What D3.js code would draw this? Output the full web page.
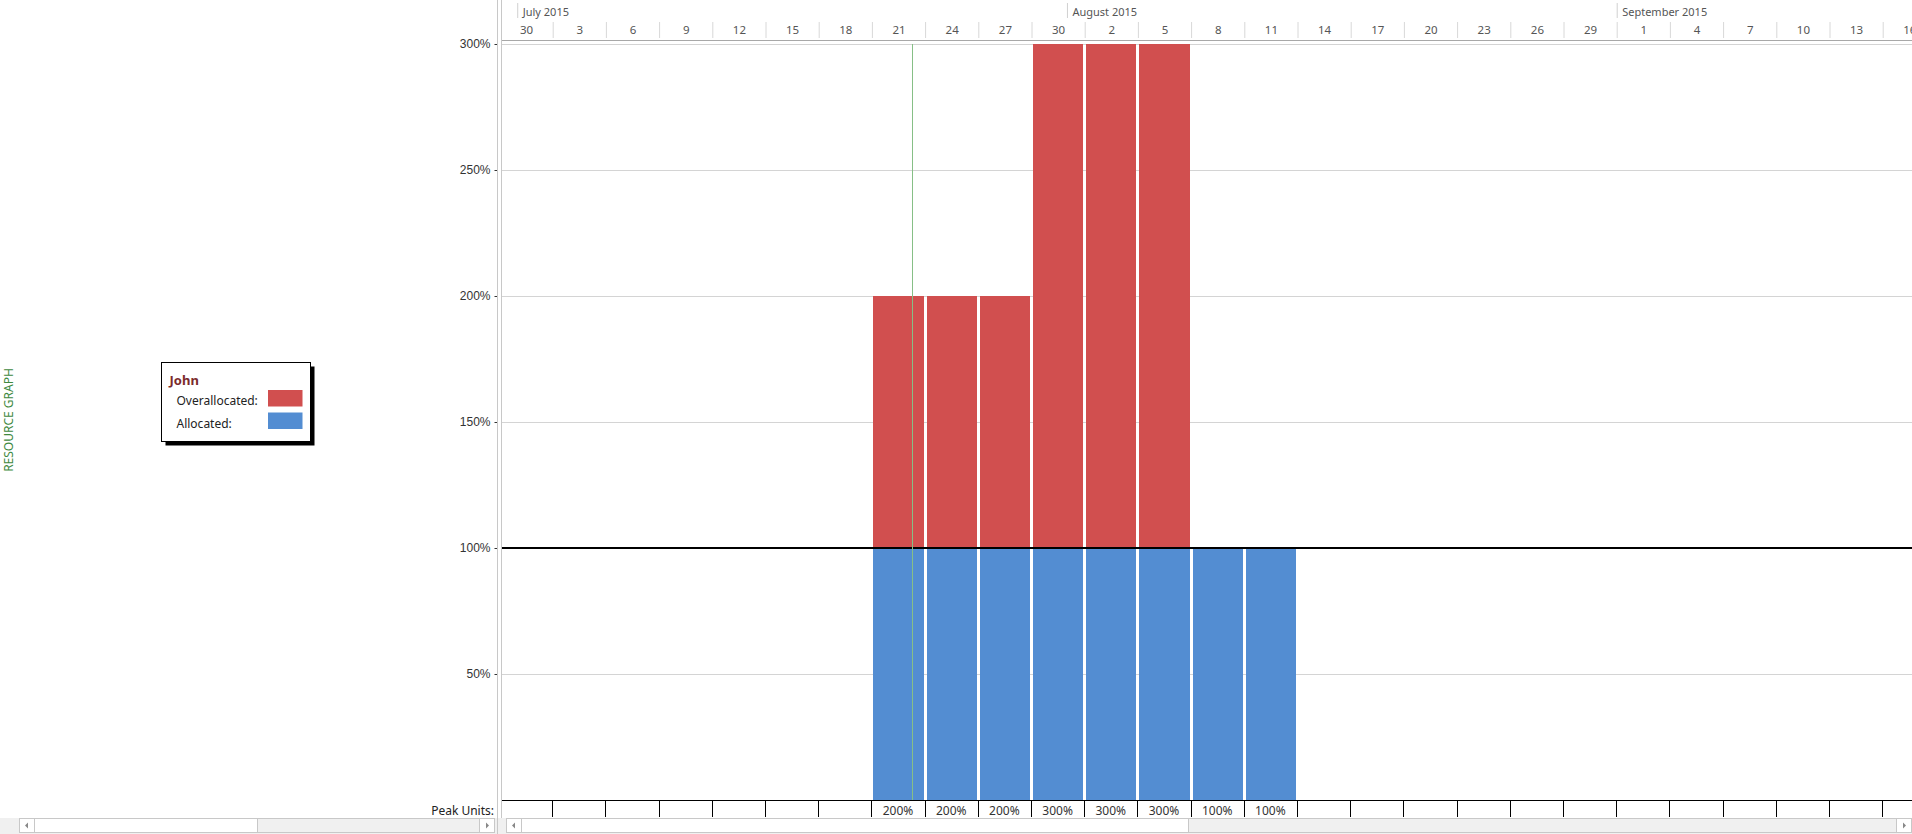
<!DOCTYPE html>
<html>
<head>
<meta charset="utf-8">
<script src="https://cdn.jsdelivr.net/npm/d3@7"></script>
<style>
  html, body { margin: 0; padding: 0; background: #fff; overflow: hidden; }
  svg { display: block; font-family: "Noto Sans", "Open Sans", sans-serif; }
  .y.axis text { font-size: 12px; fill: #333; }
  .y.axis line { stroke: #333; }
  .y.axis .domain { display: none; }
</style>
</head>
<body>
<div class="plotWrapper"></div>
<script>
// timeline: one column = 3 days, first column starts on June 30
const timelineStart = "2015-06-30";
const daysPerColumn = 3;
const dayLabels = ["30", "3", "6", "9", "12", "15", "18", "21", "24", "27", "30", "2", "5", "8",
    "11", "14", "17", "20", "23", "26", "29", "1", "4", "7", "10", "13", "16"];
const monthLabels = ["July 2015", "August 2015", "September 2015"];
const monthStarts = ["2015-07-01", "2015-08-01", "2015-09-01"];

// resource John
const resourceName = "John";
const periodStarts = ["2015-07-21", "2015-07-24", "2015-07-27", "2015-07-30",
    "2015-08-02", "2015-08-05", "2015-08-08", "2015-08-11"];
const allocated = [100, 100, 100, 100, 100, 100, 100, 100];
const overallocated = [100, 100, 100, 200, 200, 200, 0, 0];
const peakUnits = [200, 200, 200, 300, 300, 300, 100, 100];
const yTicks = [50, 100, 150, 200, 250, 300];
const statusDate = "2015-07-23T06:00:00Z";

const width = 1912;
const height = 834;
const chartLeft = 502;
const colWidth = 53.2;
const red = "#d14f4f";
const blue = "#538dd2";

const parse = d3.utcParse("%Y-%m-%d");
const start = parse(timelineStart);
const end = d3.utcDay.offset(start, dayLabels.length * daysPerColumn);

let xScale = d3.scaleUtc()
    .domain([start, end])
    .range([500, 500 + dayLabels.length * colWidth]);
let yScale = d3.scaleLinear().domain([0, 300]).range([800, 44]);

let svg = d3.select(".plotWrapper").append("svg")
    .attr("width", width)
    .attr("height", height);

svg.append("defs").append("clipPath").attr("id", "chartClip")
    .append("rect").attr("x", chartLeft).attr("y", 0).attr("width", width - chartLeft).attr("height", height);

// side title
svg.append("text")
    .attr("transform", "translate(13,420) rotate(-90)")
    .attr("text-anchor", "middle")
    .attr("fill", "#3f8a3f")
    .style("font-size", "12px")
    .text("RESOURCE GRAPH");

// legend box
let legend = svg.append("g").attr("transform", "translate(161.5,362.5)");
legend.append("rect").attr("x", 4).attr("y", 4).attr("width", 149).attr("height", 79).attr("fill", "#000");
legend.append("rect").attr("width", 149).attr("height", 79).attr("fill", "#fff").attr("stroke", "#000");
legend.append("text").attr("x", 8).attr("y", 22)
    .attr("fill", "#7b2b2b").style("font-size", "13px").style("font-weight", "bold")
    .text(resourceName);
let legendItems = [{label: "Overallocated:", color: red}, {label: "Allocated:", color: blue}];
legend.selectAll(".legendItem").data(legendItems).enter().append("g")
    .attr("class", "legendItem")
    .attr("transform", (d, i) => "translate(0," + (i * 22.5) + ")")
    .each(function(d){
        let g = d3.select(this);
        g.append("text").attr("x", 15).attr("y", 42.5)
            .attr("fill", "#222").style("font-size", "12px").text(d.label);
        g.append("rect").attr("x", 106.5).attr("y", 27.5).attr("width", 34.5).attr("height", 16.5)
            .attr("fill", d.color);
    });

let chart = svg.append("g").attr("clip-path", "url(#chartClip)");

// header: months
let months = monthStarts.map((m, i) => ({date: parse(m), label: monthLabels[i]}));
chart.selectAll(".monthSep").data(months).enter().append("line")
    .attr("x1", d => xScale(d.date)).attr("x2", d => xScale(d.date))
    .attr("y1", 3).attr("y2", 18)
    .attr("stroke", "#d0d0d0");
chart.selectAll(".monthLabel").data(months).enter().append("text")
    .attr("x", d => xScale(d.date) + 5).attr("y", 16)
    .attr("fill", "#555").style("font-size", "11px")
    .text(d => d.label);

// header: day columns
let columns = dayLabels.map((label, i) => {
    let colStart = d3.utcDay.offset(start, i * daysPerColumn);
    let colEnd = d3.utcDay.offset(colStart, daysPerColumn);
    return {label: label, start: colStart, end: colEnd};
});
chart.selectAll(".daySep").data(columns).enter().append("line")
    .attr("x1", d => xScale(d.end)).attr("x2", d => xScale(d.end))
    .attr("y1", 22).attr("y2", 38)
    .attr("stroke", "#d8d8d8");
chart.selectAll(".dayLabel").data(columns).enter().append("text")
    .attr("x", d => (xScale(d.start) + xScale(d.end)) / 2).attr("y", 34)
    .attr("text-anchor", "middle")
    .attr("fill", "#555").style("font-size", "11.5px")
    .text(d => d.label);
chart.append("line")
    .attr("x1", chartLeft).attr("x2", width).attr("y1", 40.5).attr("y2", 40.5)
    .attr("stroke", "#a8a8a8");

// grid
chart.selectAll(".gridLine").data(yTicks.filter(t => t !== 100)).enter().append("line")
    .attr("x1", chartLeft).attr("x2", width)
    .attr("y1", d => Math.round(yScale(d)) + 0.5).attr("y2", d => Math.round(yScale(d)) + 0.5)
    .attr("stroke", "#d4d4d4");

// bars
let periods = periodStarts.map((s, i) => {
    let periodStart = parse(s);
    return {
        start: periodStart,
        end: d3.utcDay.offset(periodStart, daysPerColumn),
        allocated: allocated[i],
        over: overallocated[i],
        peak: peakUnits[i]
    };
});
let barX = d => Math.round(xScale(d.start)) + 1;
let barW = d => Math.round(xScale(d.end)) - Math.round(xScale(d.start)) - 3;

chart.selectAll(".allocated").data(periods).enter().append("rect")
    .attr("x", barX).attr("width", barW)
    .attr("y", d => yScale(d.allocated))
    .attr("height", d => yScale(0) - yScale(d.allocated))
    .attr("fill", blue);
chart.selectAll(".over").data(periods.filter(d => d.over > 0)).enter().append("rect")
    .attr("x", barX).attr("width", barW)
    .attr("y", d => yScale(d.allocated + d.over))
    .attr("height", d => yScale(d.allocated) - yScale(d.allocated + d.over))
    .attr("fill", red);

// 100% max units line
chart.append("line")
    .attr("x1", chartLeft).attr("x2", width)
    .attr("y1", yScale(100)).attr("y2", yScale(100))
    .attr("stroke", "#000").attr("stroke-width", 2);

// status date line
let statusX = Math.round(xScale(d3.isoParse(statusDate))) + 0.5;
chart.append("line")
    .attr("x1", statusX).attr("x2", statusX)
    .attr("y1", 44).attr("y2", 800)
    .attr("stroke", "#86bf86");

// y axis
svg.append("g")
    .attr("class", "y axis")
    .attr("transform", "translate(497.5,0)")
    .call(d3.axisLeft(yScale).tickValues(yTicks).tickFormat(d => d + "%").tickSize(3).tickPadding(4));

// peak units row
chart.append("line")
    .attr("x1", chartLeft).attr("x2", width).attr("y1", 800.5).attr("y2", 800.5)
    .attr("stroke", "#000");
chart.selectAll(".peakSep").data(columns).enter().append("line")
    .attr("x1", d => Math.round(xScale(d.end)) - 0.5).attr("x2", d => Math.round(xScale(d.end)) - 0.5)
    .attr("y1", 800).attr("y2", 817)
    .attr("stroke", "#000");
chart.selectAll(".peakLabel").data(periods).enter().append("text")
    .attr("x", d => (xScale(d.start) + xScale(d.end)) / 2 - 1)
    .attr("y", 815)
    .attr("text-anchor", "middle")
    .attr("fill", "#333").style("font-size", "12px")
    .text(d => d.peak + "%");
svg.append("text")
    .attr("x", 494).attr("y", 815)
    .attr("text-anchor", "end")
    .attr("fill", "#222").style("font-size", "12px")
    .text("Peak Units:");

// scrollbar strip
svg.append("rect").attr("x", 0).attr("y", 818).attr("width", width).attr("height", 16).attr("fill", "#f0f0f0");

function scrollbar(x0, x1, thumb0, thumb1){
    let g = svg.append("g");
    g.append("rect").attr("x", x0 + 0.5).attr("y", 818.5).attr("width", x1 - x0 - 1).attr("height", 14)
        .attr("fill", "#f0f0f0").attr("stroke", "#c8c8c8");
    g.append("rect").attr("x", thumb0 + 0.5).attr("y", 818.5).attr("width", thumb1 - thumb0).attr("height", 14)
        .attr("fill", "#fff").attr("stroke", "#c8c8c8");
    g.append("rect").attr("x", x0 + 0.5).attr("y", 818.5).attr("width", 15).attr("height", 14)
        .attr("fill", "#fff").attr("stroke", "#c8c8c8");
    g.append("rect").attr("x", x1 - 15.5).attr("y", 818.5).attr("width", 15).attr("height", 14)
        .attr("fill", "#fff").attr("stroke", "#c8c8c8");
    g.append("path").attr("d", `M${x0 + 6},825.5 l3,-3 v6 z`).attr("fill", "#888");
    g.append("path").attr("d", `M${x1 - 6},825.5 l-3,-3 v6 z`).attr("fill", "#888");
}
scrollbar(19, 495, 34, 257);
scrollbar(506, 1912, 520, 1188);

// panel divider
svg.append("line").attr("x1", 497.5).attr("x2", 497.5).attr("y1", 0).attr("y2", height).attr("stroke", "#c8c8c8");
svg.append("line").attr("x1", 501.5).attr("x2", 501.5).attr("y1", 0).attr("y2", 818).attr("stroke", "#c8c8c8");
</script>
</body>
</html>
